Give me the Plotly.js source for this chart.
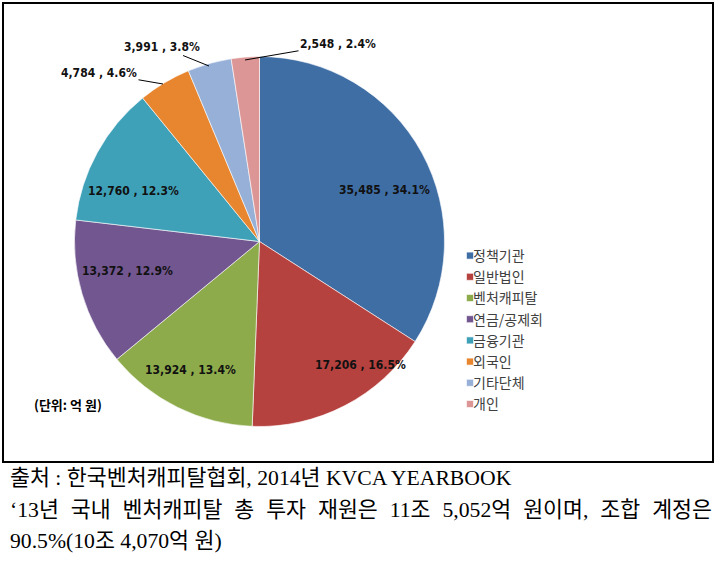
<!DOCTYPE html>
<html>
<head>
<meta charset="utf-8">
<script src="https://cdn.plot.ly/plotly-3.0.1.min.js"></script>
<style>
  html, body { margin: 0; padding: 0; background: #fff; width: 716px; height: 587px; overflow: hidden; }
  #chart { position: absolute; left: 0; top: 0; width: 716px; height: 470px; }
  .cap { position: absolute; left: 10px; width: 702px; font-family: "Liberation Serif", "Noto Sans CJK KR", serif; font-size: 21.7px; line-height: 32px; color: #000; white-space: nowrap; }
  .just { text-align: justify; text-align-last: justify; white-space: normal; }
</style>
</head>
<body>
<div id="chart"></div>
<div class="cap" id="cap1" style="top:462px;"></div>
<div class="cap just" id="cap2" style="top:494px;"></div>
<div class="cap" id="cap3" style="top:525px;"></div>
<script>
// ---- data ----
const categories = ['정책기관', '일반법인', '벤처캐피탈', '연금/공제회', '금융기관', '외국인', '기타단체', '개인'];
const amounts = [35485, 17206, 13924, 13372, 12760, 4784, 3991, 2548];
const percents = [34.1, 16.5, 13.4, 12.9, 12.3, 4.6, 3.8, 2.4];
const sliceColors = ['#3f6ea5', '#b6423f', '#8eab4c', '#725690', '#3fa1b8', '#e8852f', '#97b0d8', '#dc9696'];
const unitNote = '(단위: 억 원)';
const captionLines = [
  '출처 : 한국벤처캐피탈협회, 2014년 KVCA YEARBOOK',
  '‘13년 국내 벤처캐피탈 총 투자 재원은 11조 5,052억 원이며, 조합 계정은',
  '90.5%(10조 4,070억 원)'
];

// ---- layout helpers ----
const W = 716, H = 470;
const px = x => x / W;
const py = y => 1 - y / H;

const labelText = amounts.map((v, i) => v.toLocaleString('en-US') + ' , ' + percents[i].toFixed(1) + '%');

const labelFont = { family: '"DejaVu Sans Condensed", "Liberation Sans Narrow", sans-serif', size: 12, color: '#111111', weight: 'bold' };

// label placement (layout only): inside labels centre, outside labels with leader line
const labelPlacement = [
  { at: [384, 190] },
  { at: [360, 365] },
  { at: [190, 370] },
  { at: [127, 271] },
  { at: [133, 191] },
  { tip: [163, 84], off: [-64, -11] },
  { tip: [209, 66], off: [-47, -19] },
  { tip: [245, 60], off: [93, -16] }
];
const annotations = labelPlacement.map((o, i) => {
  if (o.at) {
    return { x: px(o.at[0]), y: py(o.at[1]), xref: 'paper', yref: 'paper', xanchor: 'center', yanchor: 'middle',
             showarrow: false, text: labelText[i], font: labelFont };
  }
  return {
    x: px(o.tip[0]), y: py(o.tip[1]), xref: 'paper', yref: 'paper',
    text: labelText[i], showarrow: true, arrowhead: 0, arrowwidth: 1, arrowcolor: '#000',
    ax: o.off[0], ay: o.off[1], font: labelFont, standoff: 0, startstandoff: 0
  };
});
annotations.push({
  x: px(68), y: py(404), xref: 'paper', yref: 'paper', xanchor: 'center', yanchor: 'middle', showarrow: false,
  text: unitNote, font: { family: '"Noto Sans CJK KR", sans-serif', size: 13, color: '#000', weight: 'bold' }
});

const trace = {
  type: 'pie',
  labels: categories,
  values: amounts,
  textinfo: 'none',
  sort: false,
  direction: 'clockwise',
  rotation: 0,
  marker: { colors: sliceColors, line: { color: '#ffffff', width: 0.6 } },
  domain: { x: [px(74.5), px(444.5)], y: [py(426.5), py(56.5)] },
  hoverinfo: 'label+value+percent'
};

const layout = {
  width: W, height: H,
  margin: { l: 0, r: 0, t: 0, b: 0 },
  paper_bgcolor: '#ffffff',
  showlegend: true,
  legend: {
    x: px(433), y: py(240), xanchor: 'left', yanchor: 'top',
    font: { family: '"Noto Sans CJK KR", sans-serif', size: 14, color: '#404040' },
    bgcolor: 'rgba(0,0,0,0)'
  },
  shapes: [{
    type: 'rect', xref: 'paper', yref: 'paper',
    x0: px(3), x1: px(713), y0: py(462), y1: py(3),
    line: { color: '#000', width: 2 }
  }],
  annotations: annotations
};

Plotly.newPlot('chart', [trace], layout, { staticPlot: true, displayModeBar: false }).then(() => {
  document.querySelectorAll('#chart .legendpoints path').forEach(p => {
    p.setAttribute('d', 'M20.5,3.5H13.5V-3.5H20.5Z');
  });
});

document.getElementById('cap1').textContent = captionLines[0];
document.getElementById('cap2').textContent = captionLines[1];
document.getElementById('cap3').textContent = captionLines[2];
</script>
</body>
</html>
